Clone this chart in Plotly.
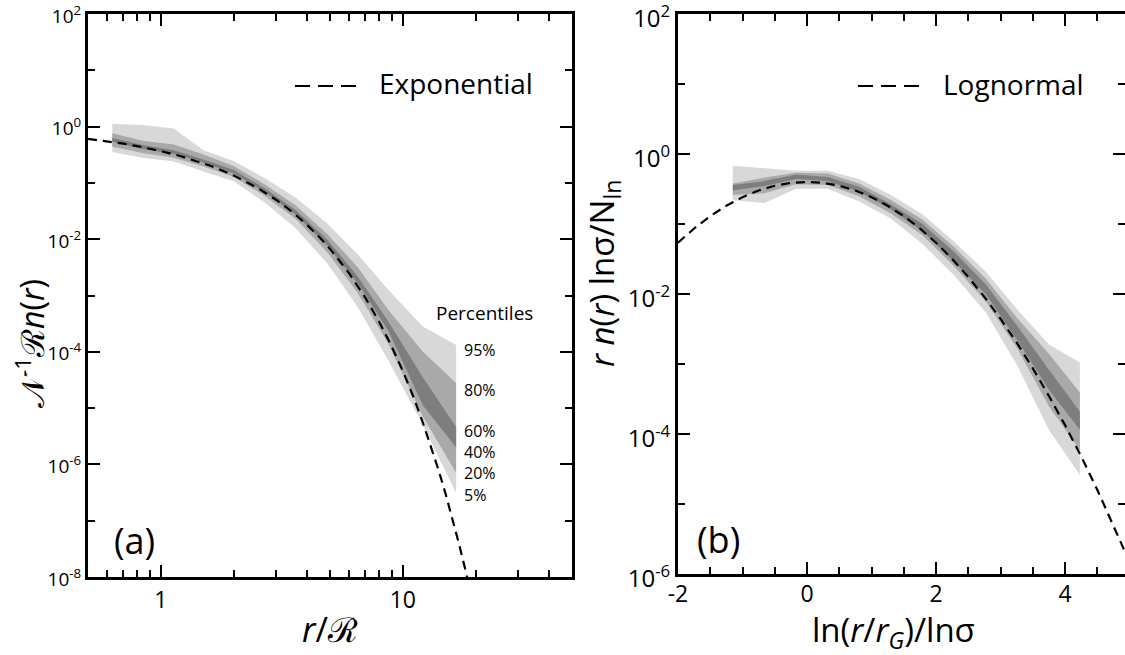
import plotly.graph_objects as go
import math

W, H = 1125, 655

# ---------------- Panel (a) data ----------------
a_nodes = [0.63, 0.84, 1.13, 1.5, 2.0, 2.7, 3.6, 4.85, 6.5, 8.7, 12.1, 16.6]
a_p95 = [1.12, 1.07, 0.93, 0.38, 0.245, 0.12, 0.055, 0.0195, 0.0054, 1.26e-3, 2.8e-4, 1.32e-4]
a_p80 = [0.76, 0.56, 0.48, 0.32, 0.20, 0.093, 0.040, 0.0126, 3.2e-3, 5.6e-4, 1.0e-4, 2.8e-5]
a_p60 = [0.63, 0.47, 0.38, 0.26, 0.17, 0.079, 0.033, 0.010, 2.2e-3, 3.5e-4, 3.5e-5, 4.6e-6]
a_p40 = [0.54, 0.40, 0.33, 0.23, 0.148, 0.068, 0.0275, 7.9e-3, 1.66e-3, 2.4e-4, 1.12e-5, 2.0e-6]
a_p20 = [0.44, 0.34, 0.28, 0.195, 0.129, 0.058, 0.023, 6.0e-3, 1.12e-3, 1.4e-4, 7.1e-6, 7.1e-7]
a_p5 = [0.355, 0.28, 0.24, 0.16, 0.107, 0.044, 0.0158, 3.8e-3, 6.3e-4, 7.1e-5, 5.0e-6, 3.1e-7]

a_fit_x = [0.5, 0.6, 0.7, 0.8, 0.9, 1.0, 1.2, 1.4, 1.6, 1.8, 2.0, 2.5, 3, 3.5, 4, 4.5, 5, 6, 7, 8,
           9, 10, 11, 12, 13, 14, 15, 16, 17, 18, 19, 20]
a_fit_y = [0.607, 0.549, 0.497, 0.449, 0.407, 0.368, 0.301, 0.247, 0.202, 0.165, 0.135, 0.082,
           0.0498, 0.0302, 0.0183, 0.0111, 6.74e-3, 2.48e-3, 9.1e-4, 3.35e-4, 1.23e-4, 4.54e-5,
           1.67e-5, 6.1e-6, 2.26e-6, 8.3e-7, 3.06e-7, 1.13e-7, 4.1e-8, 1.52e-8, 5.6e-9, 2.06e-9]

# ---------------- Panel (b) data ----------------
b_nodes = [-1.15, -0.66, -0.17, 0.32, 0.81, 1.3, 1.79, 2.28, 2.77, 3.26, 3.75, 4.23]
b_p95 = [0.68, 0.63, 0.575, 0.575, 0.44, 0.26, 0.138, 0.056, 0.021, 6.0e-3, 1.9e-3, 1.05e-3]
b_p80 = [0.38, 0.46, 0.54, 0.525, 0.38, 0.22, 0.115, 0.047, 0.0166, 4.5e-3, 1.4e-3, 3.9e-4]
b_p60 = [0.36, 0.41, 0.51, 0.47, 0.34, 0.19, 0.10, 0.040, 0.0138, 3.5e-3, 8.3e-4, 2.1e-4]
b_p40 = [0.30, 0.35, 0.44, 0.41, 0.29, 0.162, 0.079, 0.029, 0.010, 2.2e-3, 4.3e-4, 1.15e-4]
b_p20 = [0.26, 0.275, 0.37, 0.36, 0.25, 0.141, 0.069, 0.025, 7.9e-3, 1.66e-3, 2.5e-4, 5.9e-5]
b_p5 = [0.22, 0.20, 0.32, 0.32, 0.21, 0.12, 0.052, 0.0186, 5.5e-3, 9.5e-4, 1.15e-4, 2.6e-5]

b_fit_x = [-2, -1.75, -1.5, -1.25, -1, -0.75, -0.5, -0.25, 0, 0.25, 0.5, 0.75, 1, 1.25, 1.5,
           1.75, 2, 2.25, 2.5, 2.75, 3, 3.25, 3.5, 3.75, 4, 4.25, 4.5, 4.75, 5]
b_fit_y = [0.054, 0.0863, 0.1295, 0.1826, 0.242, 0.301, 0.352, 0.387, 0.399, 0.387, 0.352, 0.301,
           0.242, 0.1826, 0.1295, 0.0863, 0.054, 0.0317, 0.0175, 0.0091, 0.00443, 0.00203,
           8.7e-4, 3.5e-4, 1.34e-4, 4.8e-5, 1.6e-5, 5.0e-6, 1.49e-6]

a_ytickvals = [1e2, 1, 1e-2, 1e-4, 1e-6, 1e-8]
a_yticktext = ["10<sup>2</sup>", "10<sup>0</sup>", "10<sup>-2</sup>", "10<sup>-4</sup>",
               "10<sup>-6</sup>", "10<sup>-8</sup>"]
b_ytickvals = [1e2, 1, 1e-2, 1e-4, 1e-6]
b_yticktext = ["10<sup>2</sup>", "10<sup>0</sup>", "10<sup>-2</sup>", "10<sup>-4</sup>",
               "10<sup>-6</sup>"]
percentile_labels = ["95%", "80%", "60%", "40%", "20%", "5%"]

LIGHT, MID, DARK = "#d8d8d8", "#a9a9a9", "#7e7e7e"
FONT = "Open Sans"

fig = go.Figure()


def band(x, lo, hi, color, xa, ya):
    fig.add_trace(go.Scatter(x=list(x) + list(x)[::-1], y=list(hi) + list(lo)[::-1],
                             fill="toself", fillcolor=color, line=dict(width=0), mode="lines",
                             hoverinfo="skip", showlegend=False, xaxis=xa, yaxis=ya))


band(a_nodes, a_p5, a_p95, LIGHT, "x", "y")
band(a_nodes, a_p20, a_p80, MID, "x", "y")
band(a_nodes, a_p40, a_p60, DARK, "x", "y")
fig.add_trace(go.Scatter(x=a_fit_x, y=a_fit_y, mode="lines", showlegend=False,
                         line=dict(color="black", width=2.2, dash="9px,6px"), xaxis="x", yaxis="y"))

band(b_nodes, b_p5, b_p95, LIGHT, "x2", "y2")
band(b_nodes, b_p20, b_p80, MID, "x2", "y2")
band(b_nodes, b_p40, b_p60, DARK, "x2", "y2")
fig.add_trace(go.Scatter(x=b_fit_x, y=b_fit_y, mode="lines", showlegend=False,
                         line=dict(color="black", width=2.2, dash="9px,6px"), xaxis="x2", yaxis="y2"))

ax_common = dict(showline=True, linewidth=3, linecolor="black", mirror="ticks", ticks="inside",
                 tickwidth=2, tickcolor="black", showgrid=False, zeroline=False,
                 ticklabeloverflow="allow", automargin=False)
minor_common = dict(ticks="inside", ticklen=7, tickwidth=2, tickcolor="black")

a_x0, a_x1, a_y0, a_y1 = 88, 572, 14, 577
b_x0, b_x1, b_y0, b_y1 = 678, 1125, 14, 574

fig.update_layout(
    width=W, height=H, margin=dict(l=0, r=0, t=0, b=0, autoexpand=False),
    paper_bgcolor="white", plot_bgcolor="white",
    font=dict(family=FONT, color="black"),
    xaxis=dict(type="log", range=[math.log10(0.5), math.log10(50)],
               domain=[a_x0 / W, a_x1 / W], anchor="y",
               tickvals=[1, 10], ticktext=["1", "10"], ticklen=12,
               tickfont=dict(size=23),
               minor=dict(tickvals=[0.6, 0.7, 0.8, 0.9, 2, 3, 4, 5, 6, 7, 8, 9, 20, 30, 40],
                          **minor_common),
               **ax_common),
    yaxis=dict(type="log", range=[-8.0005, 2.0005],
               domain=[1 - a_y1 / H, 1 - a_y0 / H], anchor="x",
               tickvals=a_ytickvals, ticktext=a_yticktext, ticklen=12,
               tickfont=dict(size=19), ticklabelshift=2,
               minor=dict(tickvals=[10, 0.1, 1e-3, 1e-5, 1e-7], **minor_common),
               **ax_common),
    xaxis2=dict(range=[-2, -2 + (b_x1 - b_x0) / 64.5],
                domain=[b_x0 / W, b_x1 / W], anchor="y2",
                tickvals=[-2, 0, 2, 4], ticktext=["-2", "0", "2", "4"], ticklen=12,
                tickfont=dict(size=23), ticklabelstandoff=-3,
                minor=dict(tickvals=[-1.5, -1, -0.5, 0.5, 1, 1.5, 2.5, 3, 3.5, 4.5],
                           **minor_common),
                **ax_common),
    yaxis2=dict(type="log", range=[-6.0005, 2.0005],
                domain=[1 - b_y1 / H, 1 - b_y0 / H], anchor="x2",
                tickvals=b_ytickvals, ticktext=b_yticktext, ticklen=12,
                tickfont=dict(size=24), ticklabelshift=5,
                minor=dict(tickvals=[10, 0.1, 1e-3, 1e-5], **minor_common),
                **ax_common),
)

ann = []
# axis titles
ann.append(dict(x=330, y=629, text="<i>r</i>/\u211b", font=dict(size=34)))
ann.append(dict(x=893, y=631, text="ln(<i>r</i>/<i>r<sub>G</sub></i>)/ln\u03c3", font=dict(size=33)))
ann.append(dict(x=30, y=344, text="\U0001D4A9<sup>-1</sup>\u211b<i>n</i>(<i>r</i>)",
                font=dict(size=32), textangle=-90))
ann.append(dict(x=603, y=274, text="<i>r n</i>(<i>r</i>) ln\u03c3/N<sub>ln</sub>",
                font=dict(size=33), textangle=-90))
# panel labels
ann.append(dict(x=134, y=540, text="(a)", font=dict(size=36)))
ann.append(dict(x=718, y=539, text="(b)", font=dict(size=36)))
# legends
ann.append(dict(x=377, y=83, text="Exponential", font=dict(size=28), xanchor="left"))
ann.append(dict(x=941, y=84, text="Lognormal", font=dict(size=28), xanchor="left"))
# percentiles
ann.append(dict(x=434, y=313, text="Percentiles", font=dict(size=19), xanchor="left"))
for t, yy in zip(percentile_labels, [350, 390, 431, 452, 473, 495]):
    ann.append(dict(x=462, y=yy, text=t, font=dict(size=16), xanchor="left"))

annotations = []
for a in ann:
    d = dict(xref="paper", yref="paper", showarrow=False, xanchor=a.get("xanchor", "center"),
             yanchor="middle", x=a["x"] / W, y=1 - a["y"] / H, text=a["text"],
             font=dict(family=FONT, color="black", **a["font"]))
    if "textangle" in a:
        d["textangle"] = a["textangle"]
    annotations.append(d)
fig.update_layout(annotations=annotations)

shapes = [
    dict(type="line", xref="paper", yref="paper", x0=295 / W, x1=356 / W, y0=1 - 86 / H, y1=1 - 86 / H,
         line=dict(color="black", width=2.2, dash="15px,8px")),
    dict(type="line", xref="paper", yref="paper", x0=858 / W, x1=920 / W, y0=1 - 86 / H, y1=1 - 86 / H,
         line=dict(color="black", width=2.2, dash="15px,8px")),
]
fig.update_layout(shapes=shapes)

fig.write_html("out.html")
